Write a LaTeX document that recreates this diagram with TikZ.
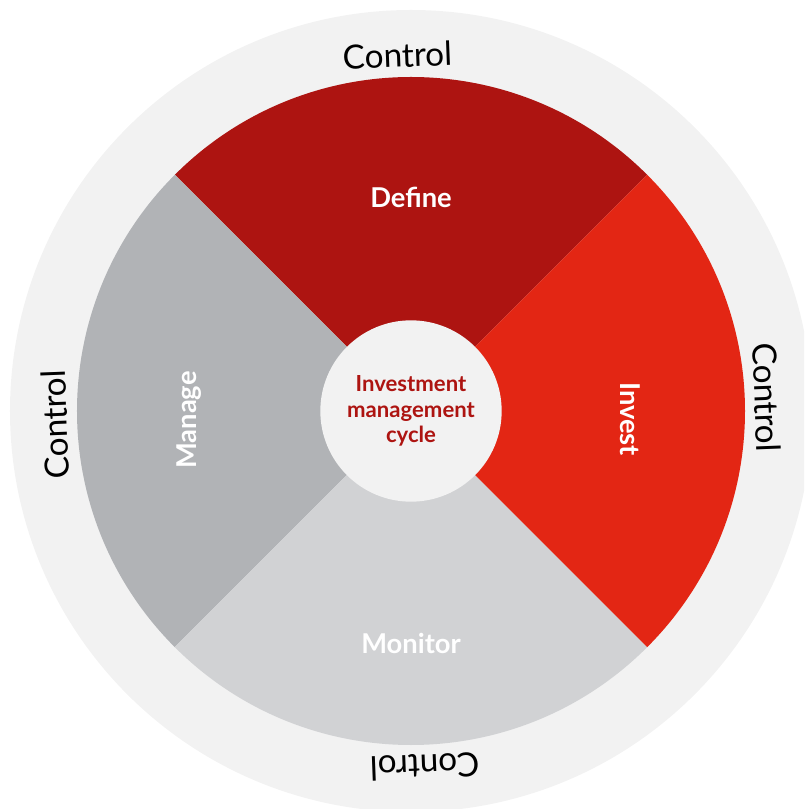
\documentclass[tikz,border=0pt]{standalone}
\usepackage{fontspec}
\setmainfont{Lato}
\usetikzlibrary{positioning}
\definecolor{definered}{HTML}{AD1411}
\definecolor{investred}{HTML}{E32614}
\definecolor{managegray}{HTML}{B1B3B6}
\definecolor{monitorgray}{HTML}{D1D2D4}
\definecolor{ringgray}{HTML}{F2F2F2}
\tikzset{
  stagetext/.style={text=white, font=\bfseries\fontsize{20.5}{24}\selectfont, inner sep=0pt},
  ringtext/.style={text=black, font=\fontsize{25}{28}\selectfont, inner sep=0pt},
  hub/.style={circle, fill=ringgray, minimum size=136pt, inner sep=0pt, align=center,
    text=definered, font=\bfseries\fontsize{16.6}{19}\selectfont}
}
\begin{document}
\begin{tikzpicture}[x=0.75pt, y=0.75pt]
  \useasboundingbox (-411,-398) rectangle (393,411);
  \clip (-411,-398) rectangle (393,411);
  % outer ring
  \fill[ringgray] (0,0) circle (401);
  % the four stages
  \fill[definered] (0,0) -- (45:334) arc[start angle=45, end angle=135, radius=334] -- cycle;
  \fill[managegray] (0,0) -- (135:334) arc[start angle=135, end angle=225, radius=334] -- cycle;
  \fill[monitorgray] (0,0) -- (225:334) arc[start angle=225, end angle=315, radius=334] -- cycle;
  \fill[investred] (0,0) -- (-45:334) arc[start angle=-45, end angle=45, radius=334] -- cycle;
  \node[hub] (hub) at (0,0) {Investment\\management\\cycle};
  \node[stagetext] (define) at (0,214) {Define};
  \node[stagetext, rotate=-90] (invest) at (219,-8) {Invest};
  \node[stagetext] (monitor) at (0,-232) {Monitor};
  \node[stagetext, rotate=90] (manage) at (-222,-9) {Manage};
  % control labels round the ring
  \node[ringtext, rotate=2.2] (ctrltop) at (92.2:356) {Control};
  \node[ringtext, rotate=-87.8] (ctrlright) at (2.2:356) {Control};
  \node[ringtext, rotate=182.2] (ctrlbottom) at (-87.8:356) {Control};
  \node[ringtext, rotate=92.2] (ctrlleft) at (182.2:356) {Control};
\end{tikzpicture}
\end{document}
